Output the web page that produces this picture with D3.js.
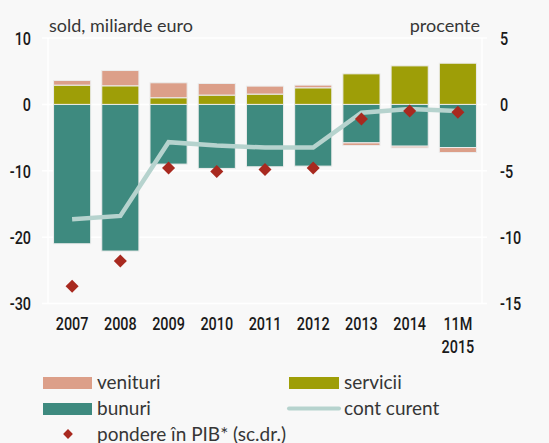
<!DOCTYPE html>
<html>
<head>
<meta charset="utf-8">
<script src="https://cdn.jsdelivr.net/npm/d3@7"></script>
<style>
  body { margin: 0; background: #f8f8f8; }
  svg { display: block; }
  .tick-label { font-family: Roboto, "DejaVu Sans Condensed", sans-serif; font-size: 18px; font-weight: 500; fill: #1a1a1a; }
  .title, .legend { font-family: Lato, "Noto Sans", sans-serif; fill: #363636; }
</style>
</head>
<body>
<div id="chart"></div>
<script>
// data
const years = ["2007", "2008", "2009", "2010", "2011", "2012", "2013", "2014", "11M 2015"];
const venituri = [0.7, 2.3, 2.25, 1.75, 1.2, 0.4, -0.4, -0.25, -0.75];
const servicii = [2.9, 2.8, 1.0, 1.4, 1.55, 2.5, 4.6, 5.8, 6.2];
const bunuri = [-21.0, -22.1, -9.0, -9.65, -9.4, -9.3, -5.8, -6.3, -6.5];
const contCurent = [-17.3, -16.8, -5.7, -6.2, -6.5, -6.5, -1.25, -0.7, -1.0];
const ponderePIB = [-13.7, -11.8, -4.8, -5.05, -4.9, -4.8, -1.1, -0.5, -0.6];
const leftTicks = [10, 0, -10, -20, -30];
const rightTicks = [5, 0, -5, -10, -15];

const w = 549, h = 443;
const colors = { venituri: "#dc9f89", servicii: "#9e9e07", bunuri: "#3e8a7f" };
const squeeze = 0.8; // condensed look for the axis numbers

const svg = d3.select("#chart").append("svg")
  .attr("width", w)
  .attr("height", h);

const x = d3.scaleBand()
  .domain(years)
  .range([48, 482])
  .paddingInner(0.23)
  .paddingOuter(0.115);

const y = d3.scaleLinear().domain([-30, 10]).range([303.5, 38]);
const y2 = d3.scaleLinear().domain([-15, 5]).range([303.5, 38]);

// grid
svg.append("g")
  .selectAll("line")
  .data(leftTicks)
  .enter()
  .append("line")
  .attr("x1", 42).attr("x2", 487)
  .attr("y1", d => y(d)).attr("y2", d => y(d))
  .attr("stroke", "#fff")
  .attr("stroke-width", 1.5);

svg.append("g")
  .selectAll("line")
  .data([48, 482])
  .enter()
  .append("line")
  .attr("x1", d => d).attr("x2", d => d)
  .attr("y1", 38).attr("y2", 303.5)
  .attr("stroke", "#fff")
  .attr("stroke-width", 1.5);

// axes labels
const fmt = d => String(d); // plain hyphen, like the original
const yAxis = d3.axisLeft(y).tickValues(leftTicks).tickFormat(fmt).tickSize(0).tickPadding(0);
const yAxisR = d3.axisRight(y2).tickValues(rightTicks).tickFormat(fmt).tickSize(0).tickPadding(0);

const gl = svg.append("g").attr("transform", "translate(31,0)").call(yAxis);
const gr = svg.append("g").attr("transform", "translate(500,0)").call(yAxisR);
[gl, gr].forEach(g => {
  g.select(".domain").remove();
  g.attr("font-family", null).attr("font-size", null);
  g.selectAll("text").attr("class", "tick-label").attr("dy", "0.36em");
});

// stacked bars
const rows = years.map((yr, i) => ({ year: yr, bunuri: bunuri[i], servicii: servicii[i], venituri: venituri[i] }));
const series = d3.stack()
  .keys(["bunuri", "servicii", "venituri"])
  .offset(d3.stackOffsetDiverging)(rows);

svg.append("g")
  .selectAll("g")
  .data(series)
  .enter()
  .append("g")
  .attr("fill", d => colors[d.key])
  .selectAll("rect")
  .data(d => d)
  .enter()
  .append("rect")
  .attr("x", d => x(d.data.year))
  .attr("width", x.bandwidth())
  .attr("y", d => y(Math.max(d[0], d[1])))
  .attr("height", d => Math.abs(y(d[0]) - y(d[1])))
  .attr("stroke", "#ececec")
  .attr("stroke-width", 1);

// current account line
const line = d3.line()
  .x((d, i) => x(years[i]) + x.bandwidth() / 2)
  .y(d => y(d));

svg.append("path")
  .datum(contCurent)
  .attr("d", line)
  .attr("fill", "none")
  .attr("stroke", "#b6d3ce")
  .attr("stroke-width", 4.5);

// diamonds (right axis)
const diamond = d3.symbol().type(d3.symbolSquare).size(85);
svg.append("g")
  .selectAll("path")
  .data(ponderePIB)
  .enter()
  .append("path")
  .attr("d", diamond)
  .attr("transform", (d, i) => "translate(" + (x(years[i]) + x.bandwidth() / 2) + "," + y2(d) + ") rotate(45)")
  .attr("fill", "#a8291f");

// x labels
const xl = svg.append("g");
years.forEach(yr => {
  yr.split(" ").forEach((p, k) => {
    xl.append("text")
      .attr("class", "tick-label")
      .attr("text-anchor", "middle")
      .attr("x", x(yr) + x.bandwidth() / 2)
      .attr("y", 329.5 + k * 23.5)
      .text(p);
  });
});

// narrow the axis numbers
svg.selectAll(".tick-label").each(function () {
  const len = this.getComputedTextLength();
  d3.select(this).attr("textLength", len * squeeze).attr("lengthAdjust", "spacingAndGlyphs");
});

// titles
svg.append("text").attr("class", "title").attr("x", 49).attr("y", 32)
  .attr("font-size", 18).text("sold, miliarde euro");
svg.append("text").attr("class", "title").attr("x", 480).attr("y", 32)
  .attr("text-anchor", "end").attr("font-size", 18).text("procente");

// legend
const lg = svg.append("g").attr("class", "legend").attr("font-size", 19);
lg.append("rect").attr("x", 43).attr("y", 377).attr("width", 49).attr("height", 12).attr("fill", colors.venituri);
lg.append("text").attr("x", 97).attr("y", 389).text("venituri");
lg.append("rect").attr("x", 289).attr("y", 377).attr("width", 50).attr("height", 12).attr("fill", colors.servicii);
lg.append("text").attr("x", 344).attr("y", 389).text("servicii");
lg.append("rect").attr("x", 43).attr("y", 403).attr("width", 49).attr("height", 12).attr("fill", colors.bunuri);
lg.append("text").attr("x", 97).attr("y", 415).text("bunuri");
lg.append("line").attr("x1", 289).attr("x2", 339).attr("y1", 408.5).attr("y2", 408.5)
  .attr("stroke", "#b6d3ce").attr("stroke-width", 4).attr("stroke-linecap", "round");
lg.append("text").attr("x", 344).attr("y", 415).text("cont curent");
lg.append("path").attr("d", d3.symbol().type(d3.symbolSquare).size(48))
  .attr("transform", "translate(68,434) rotate(45)").attr("fill", "#a8291f");
lg.append("text").attr("x", 97).attr("y", 441).text("pondere în PIB* (sc.dr.)");
</script>
</body>
</html>
